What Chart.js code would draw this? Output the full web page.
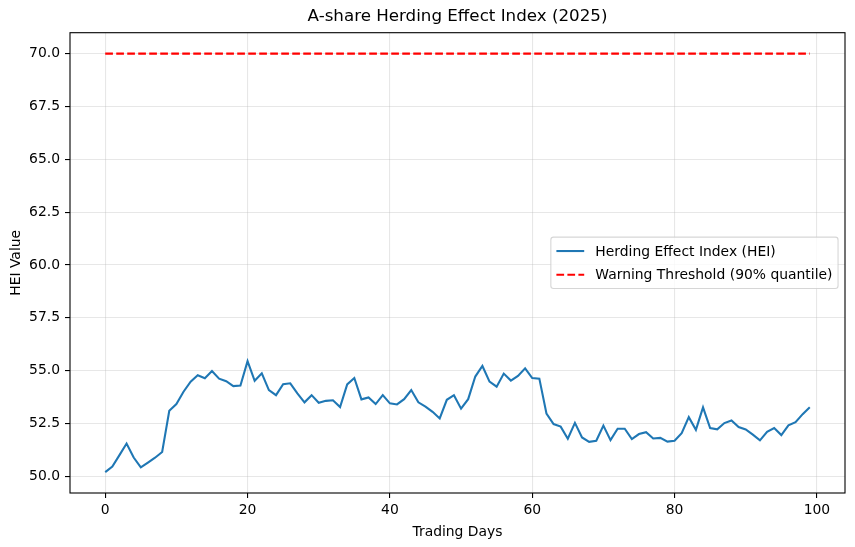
<!DOCTYPE html>
<html><head><meta charset="utf-8">
<script src="https://cdn.jsdelivr.net/npm/chart.js@4.4.1/dist/chart.umd.min.js"></script>
<style>html,body{margin:0;padding:0;background:#fff;} canvas{display:block;}</style>
</head><body>
<canvas id="c" width="855" height="547"></canvas>
<script>
const days = [0,1,2,3,4,5,6,7,8,9,10,11,12,13,14,15,16,17,18,19,20,21,22,23,24,25,26,27,28,29,30,31,32,33,34,35,36,37,38,39,40,41,42,43,44,45,46,47,48,49,50,51,52,53,54,55,56,57,58,59,60,61,62,63,64,65,66,67,68,69,70,71,72,73,74,75,76,77,78,79,80,81,82,83,84,85,86,87,88,89,90,91,92,93,94,95,96,97,98,99];
const heiValues = [50.20,50.46,51.00,51.55,50.89,50.42,50.65,50.88,51.15,53.10,
  53.42,54.00,54.48,54.78,54.64,54.98,54.62,54.50,54.27,54.30,
  55.45,54.52,54.87,54.08,53.84,54.36,54.40,53.92,53.50,53.84,
  53.48,53.57,53.60,53.28,54.35,54.65,53.64,53.73,53.42,53.84,
  53.45,53.40,53.65,54.08,53.50,53.30,53.05,52.74,53.62,53.84,
  53.20,53.65,54.72,55.22,54.48,54.24,54.86,54.53,54.75,55.11,
  54.65,54.62,52.97,52.47,52.35,51.78,52.53,51.84,51.63,51.68,
  52.40,51.71,52.25,52.25,51.76,52.00,52.09,51.79,51.82,51.64,
  51.68,52.04,52.80,52.20,53.26,52.28,52.22,52.52,52.64,52.33,
  52.22,51.97,51.70,52.10,52.28,51.95,52.41,52.56,52.94,53.27];
const thresholdValue = 70;
const xTicks = [0,20,40,60,80,100];
const yTicks = [50,52.5,55,57.5,60,62.5,65,67.5,70];
const seriesLabels = ['Herding Effect Index (HEI)','Warning Threshold (90% quantile)'];
const chartTitle = 'A-share Herding Effect Index (2025)';
const xTitle = 'Trading Days';
const yTitle = 'HEI Value';

const FONT = 'DejaVu Sans';
const fs = 13.9;
const tickFont = {family: FONT, size: fs};
const gridColor = 'rgba(176,176,176,0.3)';

const framePlugin = {
  id: 'frameLegend',
  afterDraw(chart) {
    const {ctx, chartArea: a} = chart;
    ctx.save();
    // title centred over the axes
    ctx.font = '16.7px "' + FONT + '"';
    ctx.fillStyle = '#000';
    ctx.textAlign = 'center';
    ctx.textBaseline = 'middle';
    ctx.fillText(chartTitle, (a.left + a.right) / 2, 17);
    // axes frame
    ctx.strokeStyle = '#000';
    ctx.lineWidth = 1.1;
    ctx.setLineDash([]);
    ctx.strokeRect(a.left, a.top, a.right - a.left, a.bottom - a.top);
    // legend
    ctx.font = fs + 'px "' + FONT + '"';
    const ds = chart.data.datasets;
    const tw = Math.max(...ds.map(d => ctx.measureText(d.label).width));
    const pad = 0.4 * fs, hl = 2 * fs, htp = 0.8 * fs, ls = 0.5 * fs, rowH = fs * 1.2, bap = 0.5 * fs;
    const w = pad * 2 + hl + htp + tw;
    const h = pad * 2 + rowH * ds.length + ls * (ds.length - 1);
    const x0 = a.right - bap - w, y0 = (a.top + a.bottom) / 2 - h / 2;
    const r = 0.2 * fs;
    ctx.beginPath();
    ctx.moveTo(x0 + r, y0);
    ctx.lineTo(x0 + w - r, y0); ctx.quadraticCurveTo(x0 + w, y0, x0 + w, y0 + r);
    ctx.lineTo(x0 + w, y0 + h - r); ctx.quadraticCurveTo(x0 + w, y0 + h, x0 + w - r, y0 + h);
    ctx.lineTo(x0 + r, y0 + h); ctx.quadraticCurveTo(x0, y0 + h, x0, y0 + h - r);
    ctx.lineTo(x0, y0 + r); ctx.quadraticCurveTo(x0, y0, x0 + r, y0);
    ctx.closePath();
    ctx.fillStyle = 'rgba(255,255,255,0.8)';
    ctx.fill();
    ctx.strokeStyle = 'rgba(204,204,204,0.8)';
    ctx.lineWidth = 1.1;
    ctx.stroke();
    ds.forEach((d, i) => {
      const cy = y0 + pad + rowH * i + ls * i + rowH / 2;
      ctx.beginPath();
      ctx.setLineDash(d.borderDash || []);
      ctx.strokeStyle = d.borderColor;
      ctx.lineWidth = d.borderWidth;
      ctx.moveTo(x0 + pad, cy);
      ctx.lineTo(x0 + pad + hl, cy);
      ctx.stroke();
      ctx.setLineDash([]);
      ctx.fillStyle = '#000';
      ctx.textBaseline = 'middle';
      ctx.textAlign = 'left';
      ctx.fillText(d.label, x0 + pad + hl + htp, cy + 1);
    });
    ctx.restore();
  }
};

new Chart(document.getElementById('c'), {
  type: 'line',
  data: {
    datasets: [
      {
        label: seriesLabels[0],
        data: days.map((d, i) => ({x: d, y: heiValues[i]})),
        borderColor: '#1f77b4',
        borderWidth: 2.08,
        pointRadius: 0,
        tension: 0,
        fill: false
      },
      {
        label: seriesLabels[1],
        data: days.map(d => ({x: d, y: thresholdValue})),
        borderColor: '#ff0000',
        borderWidth: 2.08,
        borderDash: [7.7, 3.3],
        pointRadius: 0,
        tension: 0,
        fill: false
      }
    ]
  },
  options: {
    responsive: false,
    animation: false,
    devicePixelRatio: 1,
    layout: {padding: {left: 0, right: 10, top: 32.7, bottom: 0}},
    plugins: {
      legend: {display: false},
      tooltip: {enabled: false},
      title: {display: false}
    },
    scales: {
      x: {
        type: 'linear',
        min: -4.95,
        max: 103.95,
        afterBuildTicks: s => { s.ticks = xTicks.map(v => ({value: v})); },
        afterFit: s => { s.height = 54; },
        grid: {color: gridColor, lineWidth: 1.1, tickColor: '#000', tickLength: 5, tickWidth: 1.1, drawTicks: true},
        border: {display: false},
        ticks: {color: '#000', font: tickFont, padding: 4, maxRotation: 0, autoSkip: false, callback: v => String(v)},
        title: {display: true, text: xTitle, color: '#000', font: tickFont, padding: 6.6}
      },
      y: {
        type: 'linear',
        min: 49.21,
        max: 70.99,
        afterBuildTicks: s => { s.ticks = yTicks.map(v => ({value: v})); },
        afterFit: s => { s.width = 70; },
        grid: {color: gridColor, lineWidth: 1.1, tickColor: '#000', tickLength: 5, tickWidth: 1.1, drawTicks: true},
        border: {display: false},
        ticks: {color: '#000', font: tickFont, padding: 5, autoSkip: false, callback: v => Number(v).toFixed(1)},
        title: {display: true, text: yTitle, color: '#000', font: tickFont, padding: 7.6}
      }
    }
  },
  plugins: [framePlugin]
});
</script>
</body></html>
